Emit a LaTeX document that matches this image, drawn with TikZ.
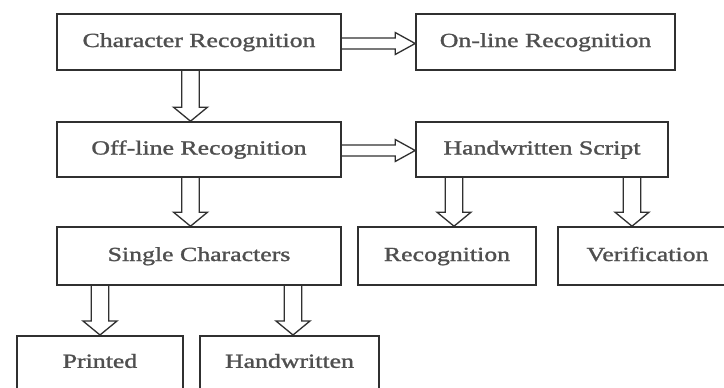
\documentclass[tikz,border=0pt]{standalone}
\usepackage{fontspec}
\usepackage{graphicx}
\setmainfont{Liberation Serif}
\newfontfamily\semib[FakeBold=1.2]{Liberation Serif}
\usetikzlibrary{calc}
\definecolor{ink}{HTML}{303030}
\newcommand\sx[1]{\scalebox{1.29}[1]{\semib #1}}
\newcommand\varrow[2]{%
  \draw[arr] let \p1=(#1), \p2=(#2) in
    (\x1-8.8pt,\y1) -- (\x1-8.8pt,\y2+14pt) -- (\x1-17pt,\y2+14pt) -- (\x1,\y2)
    -- (\x1+17pt,\y2+14pt) -- (\x1+8.8pt,\y2+14pt) -- (\x1+8.8pt,\y1);}
\newcommand\harrow[2]{%
  \draw[arr] let \p1=(#1), \p2=(#2) in
    (\x1,\y1+5.5pt) -- (\x2-20pt,\y1+5.5pt) -- (\x2-20pt,\y1+11pt) -- (\x2,\y1)
    -- (\x2-20pt,\y1-11pt) -- (\x2-20pt,\y1-5.5pt) -- (\x1,\y1-5.5pt);}
\begin{document}
\begin{tikzpicture}[x=1pt,y=-1pt,
  box/.style={draw=ink, line width=1.6pt, rectangle, inner sep=0pt,
    text=ink!85!white, font=\fontsize{20}{24}\selectfont, minimum height=56pt,
    text height=14pt, text depth=4pt},
  cut/.style={text height=32pt, text depth=30pt, minimum height=0pt},
  arr/.style={draw=ink, line width=1.3pt, line join=miter}]
\useasboundingbox (0,0) rectangle (724,388);
\clip (0,0) rectangle (724,388);
\fill[white] (0,0) rectangle (724,388);
% boxes
\node[box, minimum width=284pt] (cr)   at (199,42)    {\sx{Character Recognition}};
\node[box, minimum width=259pt] (onl)  at (545.5,42)  {\sx{On-line Recognition}};
\node[box, minimum width=284pt, minimum height=55pt] (offl) at (199,149.5) {\sx{Off-line Recognition}};
\node[box, minimum width=252pt, minimum height=55pt] (hws)  at (542,149.5) {\sx{Handwritten Script}};
\node[box, minimum width=284pt, minimum height=58pt] (sc)   at (199,256)   {\sx{Single Characters}};
\node[box, minimum width=178pt, minimum height=58pt] (rec)  at (447,256)   {\sx{Recognition}};
\node[box, minimum width=179pt, minimum height=58pt] (ver)  at (647.5,256) {\sx{Verification}};
\node[box, cut, minimum width=166pt, anchor=north] (pr) at (100,335) {\sx{Printed}};
\node[box, cut, minimum width=179pt, anchor=north] (hw) at (289.5,335) {\sx{Handwritten}};
% arrow positions
\coordinate (xa) at (190.5,0);
\coordinate (xb) at (454,0);
\coordinate (xc) at (632,0);
\coordinate (xd) at (100,0);
\coordinate (xe) at (293,0);
\coordinate (ya) at (0,43.5);
\coordinate (yb) at (0,150.5);
% arrows
\harrow{cr.east |- ya}{onl.west |- ya}
\harrow{offl.east |- yb}{hws.west |- yb}
\varrow{xa |- cr.south}{xa |- offl.north}
\varrow{xa |- offl.south}{xa |- sc.north}
\varrow{xb |- hws.south}{xb |- rec.north}
\varrow{xc |- hws.south}{xc |- ver.north}
\varrow{xd |- sc.south}{xd |- pr.north}
\varrow{xe |- sc.south}{xe |- hw.north}
\end{tikzpicture}
\end{document}
